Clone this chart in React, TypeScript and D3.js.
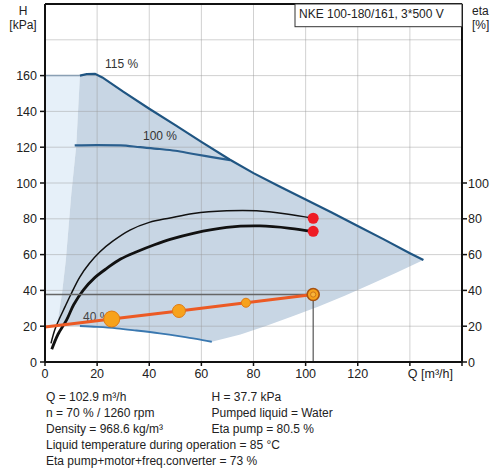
import React, { useEffect } from 'react';
import * as d3 from 'd3';

const W = 493;
const HGT = 472;

// tick labels
const xTickValues = [0, 20, 40, 60, 80, 100, 120];
const xTickMarks = [0, 20, 40, 60, 80, 100, 120, 140, 160];
const yTickValues = [0, 20, 40, 60, 80, 100, 120, 140, 160];
const etaTickValues = [0, 20, 40, 60, 80, 100];
const xGrid = [20, 40, 60, 80, 100, 120, 140];
const yGrid = [20, 40, 60, 80, 100, 120, 140, 160, 180];

// 115 % (max) curve, [Q m3/h, H kPa]
const curve115: [number, number][] = [
  [13.4, 160], [16, 160.8], [19.2, 161], [22, 159], [30, 151], [40, 141.5], [50, 132.3],
  [60, 123], [71, 113], [80, 105.5], [90, 98], [100, 90.8], [110, 83.5], [120, 76],
  [130, 68.5], [140, 60.8], [145.2, 57],
];
const curve115Flat: [number, number][] = [[0, 160], [13.4, 160]];
// 100 % curve
const curve100: [number, number][] = [
  [11.4, 121], [20, 121.2], [29, 121], [36.5, 120], [44, 119], [50, 118], [57, 116.2],
  [64, 114.5], [71, 112.8],
];
// 40 % (min) curve
const curve40: [number, number][] = [
  [13.4, 20.1], [20, 19.6], [27.5, 18.8], [35, 17.6], [44, 16], [52, 14.3], [58, 12.9], [64, 11.3],
];
// lower boundary of the operating range
const lowerBound: [number, number][] = [
  [64, 11.3], [75, 15.3], [85, 20.3], [95, 25.5], [105, 31], [115, 37], [125, 43.5],
  [135, 50], [145.2, 57],
];
// left boundary of the operating range
const leftBound: [number, number][] = [
  [13.4, 160], [12, 121], [10.1, 94], [8, 57], [6.5, 38], [5.2, 26], [4.5, 20.3],
];
// efficiency curves [Q, eta %]
const etaPump: [number, number][] = [
  [2.3, 10.4], [4, 19], [7.7, 30.9], [10, 38], [13.4, 47.6], [17, 55], [21.1, 61.6],
  [26, 67.5], [32.6, 73.7], [40, 78], [48, 80.5], [56.9, 83], [69.7, 84.5], [81.2, 84.5],
  [92.7, 82.7], [102.9, 80.3],
];
const etaTotal: [number, number][] = [
  [2.6, 7.1], [5, 15.5], [8.3, 23.5], [11, 32], [14.7, 40.2], [19, 47], [23.7, 52.3],
  [29, 57.5], [35.2, 61.6], [42, 65.5], [48, 68.5], [56.9, 71.9], [69.7, 75.2], [82.5, 76],
  [94, 74.7], [102.9, 72.8],
];
// control curve with duty points
const controlCurve: [number, number][] = [[0, 19.5], [25.6, 24], [51.4, 28.5], [77.1, 33.1], [102.9, 37.7]];
const controlDotQ = [25.6, 51.4, 77.1];
const controlDotH = [24, 28.5, 33.1];
const controlDotR = [8, 6.5, 4.5];
const dutyQ = 102.9;
const dutyH = 37.7;
const dutyEta = [80.3, 73];

const infoLeft = [
  'Q = 102.9 m³/h',
  'n = 70 % / 1260 rpm',
  'Density = 968.6 kg/m³',
  'Liquid temperature during operation = 85 °C',
  'Eta pump+motor+freq.converter = 73 %',
];
const infoRight = ['H = 37.7 kPa', 'Pumped liquid = Water', 'Eta pump = 80.5 %'];

const FONT = '"Liberation Sans", Arial, sans-serif';

export default function App() {
  useEffect(() => {
    document.body.style.margin = '0';
  }, []);

  const x = d3.scaleLinear().domain([0, 160]).range([45, 462]);
  const y = d3.scaleLinear().domain([0, 200]).range([362, 4]);

  const line = d3.line<[number, number]>().x((d) => x(d[0])).y((d) => y(d[1]));
  const smooth = d3
    .line<[number, number]>()
    .x((d) => x(d[0]))
    .y((d) => y(d[1]))
    .curve(d3.curveMonotoneX);

  const darkPoly: [number, number][] = [
    ...curve115,
    ...lowerBound.slice().reverse(),
    ...curve40.slice().reverse(),
    ...leftBound.slice().reverse(),
  ];
  const lightPoly: [number, number][] = [[0, 160], ...leftBound, [0, 19.5]];

  return (
    <svg
      width={W}
      height={HGT}
      style={{ position: 'absolute', left: 0, top: 0, background: '#fff', fontFamily: FONT }}
    >
      <rect x={0} y={0} width={W} height={HGT} fill="#fff" />
      {/* regions */}
      <path d={line(lightPoly) + 'Z'} fill="#e6f0f9" />
      <path d={line(darkPoly) + 'Z'} fill="#c8d6e4" />
      {/* grid */}
      <g stroke="#999" strokeOpacity={0.45} strokeWidth={1}>
        {xGrid.map((v) => (
          <line key={'gx' + v} x1={x(v)} x2={x(v)} y1={y(0)} y2={y(200)} />
        ))}
        {yGrid.map((v) => (
          <line key={'gy' + v} x1={x(0)} x2={x(160)} y1={y(v)} y2={y(v)} />
        ))}
      </g>
      {/* curves */}
      <path d={line(curve115Flat) || ''} fill="none" stroke="#8aa0b4" strokeWidth={1.5} />
      <path d={smooth(curve100) || ''} fill="none" stroke="#2a5f8e" strokeWidth={2.2} />
      <path d={line(curve115) || ''} fill="none" stroke="#1f5582" strokeWidth={2.2} />
      <path d={smooth(curve40) || ''} fill="none" stroke="#3a78b0" strokeWidth={1.8} />
      <text x={105} y={68} fontSize={12} fill="#333">115 %</text>
      <text x={143} y={139.5} fontSize={12} fill="#333">100 %</text>
      <text x={83} y={321} fontSize={12} fill="#444">40 %</text>

      {/* efficiency curves */}
      <path d={d3.line<[number, number]>().x((d) => x(d[0])).y((d) => y(d[1])).curve(d3.curveCatmullRom)(etaPump) || ''} fill="none" stroke="#111" strokeWidth={1.5} />
      <path d={d3.line<[number, number]>().x((d) => x(d[0])).y((d) => y(d[1])).curve(d3.curveCatmullRom)(etaTotal) || ''} fill="none" stroke="#111" strokeWidth={2.8} />

      {/* duty point guides */}
      <line x1={x(0)} x2={x(dutyQ)} y1={y(dutyH)} y2={y(dutyH)} stroke="#666" strokeWidth={1.3} />
      <line x1={x(dutyQ)} x2={x(dutyQ)} y1={y(dutyH)} y2={y(0)} stroke="#555" strokeWidth={1.2} />

      {/* control curve */}
      <path d={line(controlCurve) || ''} fill="none" stroke="#ec5a24" strokeWidth={3} />
      {controlDotQ.map((q, i) => (
        <circle key={'cd' + i} cx={x(q)} cy={y(controlDotH[i])} r={controlDotR[i]} fill="#f7a21b" stroke="#e07b12" strokeWidth={1} />
      ))}
      <circle cx={x(dutyQ)} cy={y(dutyH)} r={6} fill="#f7a21b" stroke="#a85210" strokeWidth={1.6} />
      <circle cx={x(dutyQ)} cy={y(dutyH)} r={2.6} fill="#f9b43a" stroke="#c06a18" strokeWidth={0.8} />

      {dutyEta.map((e, i) => (
        <circle key={'re' + i} cx={x(dutyQ)} cy={y(e)} r={5.5} fill="#ee1c25" />
      ))}

      {/* frame / axes */}
      <line x1={x(0)} x2={x(160)} y1={y(200)} y2={y(200)} stroke="#111" strokeWidth={1.8} />
      <line x1={x(0)} x2={x(0)} y1={y(200)} y2={y(0)} stroke="#111" strokeWidth={2} />
      <line x1={x(160)} x2={x(160)} y1={y(200)} y2={y(0)} stroke="#111" strokeWidth={2} />
      <line x1={x(0)} x2={x(160)} y1={y(0)} y2={y(0)} stroke="#111" strokeWidth={2} />

      {/* left axis */}
      {yTickValues.map((v) => (
        <g key={'yl' + v}>
          <line x1={x(0) - 5} x2={x(0)} y1={y(v)} y2={y(v)} stroke="#111" strokeWidth={1.5} />
          <text x={37} y={y(v) + 4.5} textAnchor="end" fontSize={12.5} fill="#222">{v}</text>
        </g>
      ))}
      {/* right axis */}
      {etaTickValues.map((v) => (
        <g key={'yr' + v}>
          <line x1={x(160)} x2={x(160) + 5} y1={y(v)} y2={y(v)} stroke="#111" strokeWidth={1.5} />
          <text x={468} y={y(v) + 4.5} textAnchor="start" fontSize={12.5} fill="#222">{v}</text>
        </g>
      ))}
      {/* bottom axis */}
      {xTickMarks.map((v) => (
        <line key={'xt' + v} x1={x(v)} x2={x(v)} y1={y(0)} y2={y(0) + 4} stroke="#111" strokeWidth={1.5} />
      ))}
      {xTickValues.map((v) => (
        <text key={'xl' + v} x={x(v)} y={378} textAnchor="middle" fontSize={12.5} fill="#222">{v}</text>
      ))}
      <text x={453} y={378} textAnchor="end" fontSize={12.5} fill="#222">Q [m³/h]</text>

      {/* axis titles */}
      <text x={23} y={14.5} textAnchor="middle" fontSize={12} fill="#222">H</text>
      <text x={23} y={28.5} textAnchor="middle" fontSize={12} fill="#222">[kPa]</text>
      <text x={472} y={15} textAnchor="start" fontSize={12} fill="#222">eta</text>
      <text x={472} y={29} textAnchor="start" fontSize={12} fill="#222">[%]</text>

      {/* title box */}
      <rect x={295} y={4} width={167} height={22.7} fill="#fff" stroke="#333" strokeWidth={1} />
      <text x={299} y={18} fontSize={12} fill="#222">NKE 100-180/161, 3*500 V</text>

      {/* info text */}
      {infoLeft.map((t, i) => (
        <text key={'il' + i} x={46} y={401 + i * 15.9} fontSize={12} fill="#222">{t}</text>
      ))}
      {infoRight.map((t, i) => (
        <text key={'ir' + i} x={211.5} y={401 + i * 15.9} fontSize={12} fill="#222">{t}</text>
      ))}
    </svg>
  );
}
